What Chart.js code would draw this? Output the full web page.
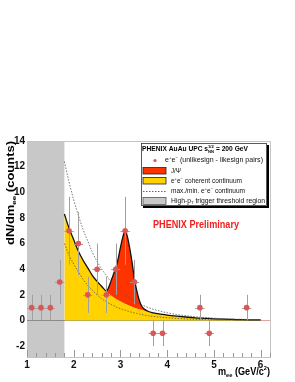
<!DOCTYPE html>
<html>
<head>
<meta charset="utf-8">
<script src="https://cdn.jsdelivr.net/npm/chart.js@4.4.1/dist/chart.umd.min.js"></script>
<style>
  html, body { margin: 0; padding: 0; background: #fff; }
  canvas { display: block; }
</style>
</head>
<body>
<canvas id="chart" width="295" height="382"></canvas>
<script>
// measured e+e- pairs (unlikesign - likesign), bin centres and errors
const massBins = [1.1, 1.3, 1.5, 1.7, 1.9, 2.1, 2.3, 2.5, 2.7, 2.9, 3.1, 3.3, 3.7, 3.9, 4.7, 4.9, 5.7];
const counts   = [1, 1, 1, 3, 7, 6, 2, 4, 2, 4, 7, 3, -1, -1, 1, -1, 1];
const countErr = [1, 1, 1, 1.73, 2.65, 2.45, 1.41, 2, 1.41, 2, 2.65, 1.73, 1, 1, 1, 1, 1];
const binHalfWidth = 0.1;

// fitted curves
const curveMass = [1.8, 1.9, 2.0, 2.1, 2.2, 2.3, 2.4, 2.5, 2.6,
  2.7, 2.75, 2.8, 2.85, 2.9, 2.95, 3.0, 3.05, 3.1, 3.15, 3.2, 3.25, 3.3, 3.35, 3.4, 3.45, 3.5,
  3.6, 3.7, 3.8, 3.9, 4.0, 4.2, 4.4, 4.6, 4.8, 5.0, 5.2, 5.4, 5.6, 5.8, 6.0];
const continuum = [8.3, 7.2, 6.3, 5.4, 4.7, 4.1, 3.5, 3.05, 2.65,
  2.25, 2.1, 1.95, 1.82, 1.7, 1.6, 1.5, 1.4, 1.3, 1.22, 1.15, 1.07, 1.0, 0.94, 0.88, 0.83, 0.78,
  0.68, 0.6, 0.53, 0.47, 0.42, 0.34, 0.27, 0.21, 0.17, 0.13, 0.1, 0.08, 0.06, 0.05, 0.04];
const totalFit = [8.3, 7.2, 6.3, 5.4, 4.7, 4.1, 3.5, 3.05, 2.65,
  2.3, 2.6, 3.1, 3.6, 4.1, 4.8, 5.7, 6.5, 7.0, 6.5, 5.6, 4.5, 3.2, 2.3, 1.6, 1.15, 0.92,
  0.7, 0.6, 0.53, 0.47, 0.42, 0.34, 0.27, 0.21, 0.17, 0.13, 0.1, 0.08, 0.06, 0.05, 0.04];
const maxContinuum = [12.4, 10.8, 9.4, 8.2, 7.1, 6.2, 5.3, 4.6, 4.0,
  3.5, 3.25, 3.0, 2.82, 2.65, 2.47, 2.3, 2.15, 2.0, 1.87, 1.75, 1.62, 1.5, 1.4, 1.3, 1.22, 1.15,
  1.0, 0.88, 0.78, 0.68, 0.6, 0.47, 0.37, 0.29, 0.23, 0.18, 0.14, 0.11, 0.09, 0.07, 0.05];
const minContinuum = [6.0, 5.1, 4.4, 3.8, 3.2, 2.75, 2.35, 2.0, 1.7,
  1.45, 1.35, 1.25, 1.16, 1.07, 0.99, 0.92, 0.86, 0.8, 0.74, 0.68, 0.63, 0.58, 0.54, 0.5, 0.46, 0.43,
  0.37, 0.32, 0.28, 0.24, 0.21, 0.16, 0.12, 0.09, 0.07, 0.05, 0.04, 0.03, 0.03, 0.02, 0.02];

// high-pT trigger threshold region
const thresholdRegion = [1.0, 1.8];

const FONT = "'Liberation Sans', Arial, Helvetica, sans-serif";
const POINT_COLOR = '#d95757';

const toPoints = (xs, ys) => xs.map((x, i) => ({ x: x, y: ys[i] }));

// text with sub/superscripts; parts = [{t, s:'sub'|'sup', keep}]
function drawRich(ctx, parts, x, y, opt) {
  const size = opt.size;
  const weight = opt.weight || 'normal';
  const small = size * 0.62;
  let w = 0, held = 0;
  const items = parts.map(p => {
    const s = p.s ? small : size;
    ctx.font = weight + ' ' + s + 'px ' + FONT;
    const pw = ctx.measureText(p.t).width;
    const it = { p: p, s: s, x: w };
    if (p.keep) {
      held = pw;
    } else {
      w += Math.max(pw, held);
      held = 0;
    }
    return it;
  });
  const sx = opt.width ? opt.width / w : 1;
  ctx.save();
  ctx.translate(x, y);
  if (opt.rotate) ctx.rotate(-Math.PI / 2);
  ctx.scale(sx, 1);
  if (opt.align === 'right') ctx.translate(-w, 0);
  ctx.fillStyle = opt.color || '#000';
  ctx.textBaseline = 'middle';
  ctx.textAlign = 'left';
  items.forEach(it => {
    ctx.font = weight + ' ' + it.s + 'px ' + FONT;
    let dy = 0;
    if (it.p.s === 'sub') dy = size * 0.3;
    if (it.p.s === 'sup') dy = -size * 0.36;
    ctx.fillText(it.p.t, it.x, dy);
  });
  ctx.restore();
}

const ePair = [{ t: 'e' }, { t: '+', s: 'sup' }, { t: 'e' }, { t: '\u2212', s: 'sup' }];

const decorations = {
  id: 'decorations',
  beforeDatasetsDraw(chart) {
    const { ctx, chartArea: a, scales: { x, y } } = chart;
    ctx.save();
    // threshold band
    ctx.fillStyle = '#c8c8c8';
    const x0 = x.getPixelForValue(thresholdRegion[0]);
    const x1 = x.getPixelForValue(thresholdRegion[1]);
    ctx.fillRect(x0, a.top, x1 - x0, a.bottom - a.top);
    // zero line
    ctx.strokeStyle = '#8a8a8a';
    ctx.lineWidth = 1;
    const y0 = Math.round(y.getPixelForValue(0)) + 0.5;
    ctx.beginPath();
    ctx.moveTo(a.left, y0);
    ctx.lineTo(x.getPixelForValue(6), y0);
    ctx.stroke();
    ctx.strokeStyle = '#e8a0a0';
    ctx.beginPath();
    ctx.moveTo(x.getPixelForValue(6), y0);
    ctx.lineTo(a.right, y0);
    ctx.stroke();
    ctx.restore();
  },
  beforeDatasetDraw(chart, args) {
    if (args.index !== 0) return;
    const { ctx, scales: { x, y } } = chart;
    ctx.save();
    ctx.strokeStyle = '#a0a0a0';
    ctx.lineWidth = 1;
    massBins.forEach((m, i) => {
      const px = Math.round(x.getPixelForValue(m)) + 0.5;
      const py = Math.round(y.getPixelForValue(counts[i])) + 0.5;
      ctx.beginPath();
      ctx.moveTo(px, y.getPixelForValue(counts[i] + countErr[i]));
      ctx.lineTo(px, y.getPixelForValue(counts[i] - countErr[i]));
      ctx.moveTo(x.getPixelForValue(m - binHalfWidth), py);
      ctx.lineTo(x.getPixelForValue(m + binHalfWidth), py);
      ctx.stroke();
    });
    ctx.restore();
  },
  afterDatasetsDraw(chart) {
    const { ctx, chartArea: a, scales: { x } } = chart;
    ctx.save();
    // frame top / right
    ctx.strokeStyle = '#c4c4c4';
    ctx.lineWidth = 1;
    ctx.beginPath();
    ctx.moveTo(a.left, a.top + 0.5);
    ctx.lineTo(a.right + 0.5, a.top + 0.5);
    ctx.lineTo(a.right + 0.5, a.bottom);
    ctx.stroke();
    // inside ticks on x axis
    ctx.strokeStyle = '#999';
    ctx.beginPath();
    x.ticks.forEach(t => {
      for (let k = 0; k < 5; k++) {
        const v = t.value + k * 0.2;
        if (v > x.max) break;
        const px = Math.round(x.getPixelForValue(v)) + 0.5;
        ctx.moveTo(px, a.bottom);
        ctx.lineTo(px, a.bottom - (k === 0 ? 7 : 4));
      }
    });
    ctx.stroke();
    ctx.restore();
  },
  afterDraw(chart) {
    const { ctx, chartArea: a } = chart;
    ctx.save();
    // axis titles
    drawRich(ctx, [{ t: 'dN/dm' }, { t: 'ee', s: 'sub' }, { t: ' (counts)' }],
      11, a.top, { size: 10, weight: 'bold', rotate: true, align: 'right', width: 104 });
    drawRich(ctx, [{ t: 'm' }, { t: 'ee', s: 'sub' }, { t: ' (GeV/c' }, { t: '2', s: 'sup' }, { t: ')' }],
      a.right, 372, { size: 10, weight: 'bold', align: 'right', width: 52 });

    // legend box with shadow
    ctx.fillStyle = '#000';
    ctx.fillRect(143, 145, 126, 63);
    ctx.fillStyle = '#fff';
    ctx.fillRect(141, 143, 126, 63);
    ctx.strokeStyle = '#333';
    ctx.lineWidth = 0.8;
    ctx.strokeRect(141.5, 143.5, 125, 62);

    drawRich(ctx, [{ t: 'PHENIX AuAu UPC s' }, { t: '1/2', s: 'sup', keep: true }, { t: 'NN', s: 'sub' }, { t: ' = 200 GeV' }],
      142, 149.5, { size: 7, weight: 'bold', width: 106 });

    // e+e- marker
    ctx.fillStyle = POINT_COLOR;
    ctx.beginPath();
    ctx.arc(155, 160.5, 1.6, 0, Math.PI * 2);
    ctx.fill();
    drawRich(ctx, ePair.concat([{ t: ' (unlikesign - likesign pairs)' }]),
      165, 160.5, { size: 7, width: 98, color: '#111' });

    // J/psi
    ctx.fillStyle = '#ff3300';
    ctx.fillRect(143, 167.5, 23, 6.5);
    ctx.strokeStyle = '#222';
    ctx.lineWidth = 0.8;
    ctx.strokeRect(143, 167.5, 23, 6.5);
    drawRich(ctx, [{ t: 'J/\u03A8' }], 171, 171, { size: 7, width: 10, color: '#111' });

    // coherent continuum
    ctx.fillStyle = '#ffd200';
    ctx.fillRect(143, 177.5, 23, 6.5);
    ctx.strokeRect(143, 177.5, 23, 6.5);
    drawRich(ctx, ePair.concat([{ t: ' coherent continuum' }]),
      171, 181, { size: 7, width: 71, color: '#111' });

    // max/min
    ctx.strokeStyle = '#444';
    ctx.setLineDash([1.5, 1.5]);
    ctx.beginPath();
    ctx.moveTo(143, 191.5);
    ctx.lineTo(166, 191.5);
    ctx.stroke();
    ctx.setLineDash([]);
    drawRich(ctx, [{ t: 'max./min. ' }].concat(ePair, [{ t: ' continuum' }]),
      171, 191, { size: 7, width: 74, color: '#111' });

    // threshold
    ctx.fillStyle = '#c8c8c8';
    ctx.fillRect(143, 197.5, 23, 7);
    ctx.strokeStyle = '#555';
    ctx.strokeRect(143, 197.5, 23, 7);
    drawRich(ctx, [{ t: 'High-p' }, { t: 'T', s: 'sub' }, { t: ' trigger threshold region' }],
      171, 201, { size: 7, width: 94, color: '#111' });

    // preliminary tag
    drawRich(ctx, [{ t: 'PHENIX Preliminary' }], 153, 225,
      { size: 10.5, weight: 'bold', width: 86, color: '#f0201e' });
    ctx.restore();
  }
};

const ctx = document.getElementById('chart').getContext('2d');

new Chart(ctx, {
  type: 'line',
  data: {
    datasets: [
      {
        label: 'e+e- (unlikesign - likesign pairs)',
        data: toPoints(massBins, counts),
        showLine: false,
        pointRadius: 2.8,
        pointBackgroundColor: POINT_COLOR,
        pointBorderWidth: 0
      },
      {
        label: 'max. continuum',
        data: toPoints(curveMass, maxContinuum),
        borderColor: '#555',
        borderWidth: 0.8,
        borderDash: [1.5, 1.5],
        pointRadius: 0,
        cubicInterpolationMode: 'monotone',
        fill: false
      },
      {
        label: 'min. continuum',
        data: toPoints(curveMass, minContinuum),
        borderColor: '#555',
        borderWidth: 0.8,
        borderDash: [1.5, 1.5],
        pointRadius: 0,
        cubicInterpolationMode: 'monotone',
        fill: false
      },
      {
        label: 'J/Psi',
        data: toPoints(curveMass, totalFit),
        borderColor: '#111',
        borderWidth: 1.3,
        backgroundColor: '#ff3300',
        pointRadius: 0,
        cubicInterpolationMode: 'monotone',
        fill: '+1'
      },
      {
        label: 'coherent continuum',
        data: toPoints(curveMass, continuum),
        borderWidth: 0,
        backgroundColor: '#ffd200',
        pointRadius: 0,
        cubicInterpolationMode: 'monotone',
        fill: 'origin'
      }
    ]
  },
  options: {
    responsive: false,
    animation: false,
    devicePixelRatio: 1,
    layout: { padding: { top: 141, right: 25, left: 0, bottom: 0 } },
    plugins: {
      legend: { display: false },
      tooltip: { enabled: false }
    },
    scales: {
      x: {
        type: 'linear',
        min: 1,
        max: 6.2,
        afterFit: s => { s.height = 25; },
        grid: { display: false, drawTicks: false },
        border: { color: '#c4c4c4' },
        ticks: {
          stepSize: 1,
          includeBounds: false,
          padding: 2,
          color: '#111',
          font: { family: FONT, size: 10, weight: 'bold' }
        }
      },
      y: {
        type: 'linear',
        min: -2.85,
        max: 14,
        afterFit: s => { s.width = 27; },
        grid: { display: false, drawTicks: false },
        border: { color: '#c4c4c4' },
        ticks: {
          stepSize: 2,
          includeBounds: false,
          padding: 2,
          color: '#111',
          font: { family: FONT, size: 10, weight: 'bold' }
        }
      }
    }
  },
  plugins: [decorations]
});
</script>
</body>
</html>
